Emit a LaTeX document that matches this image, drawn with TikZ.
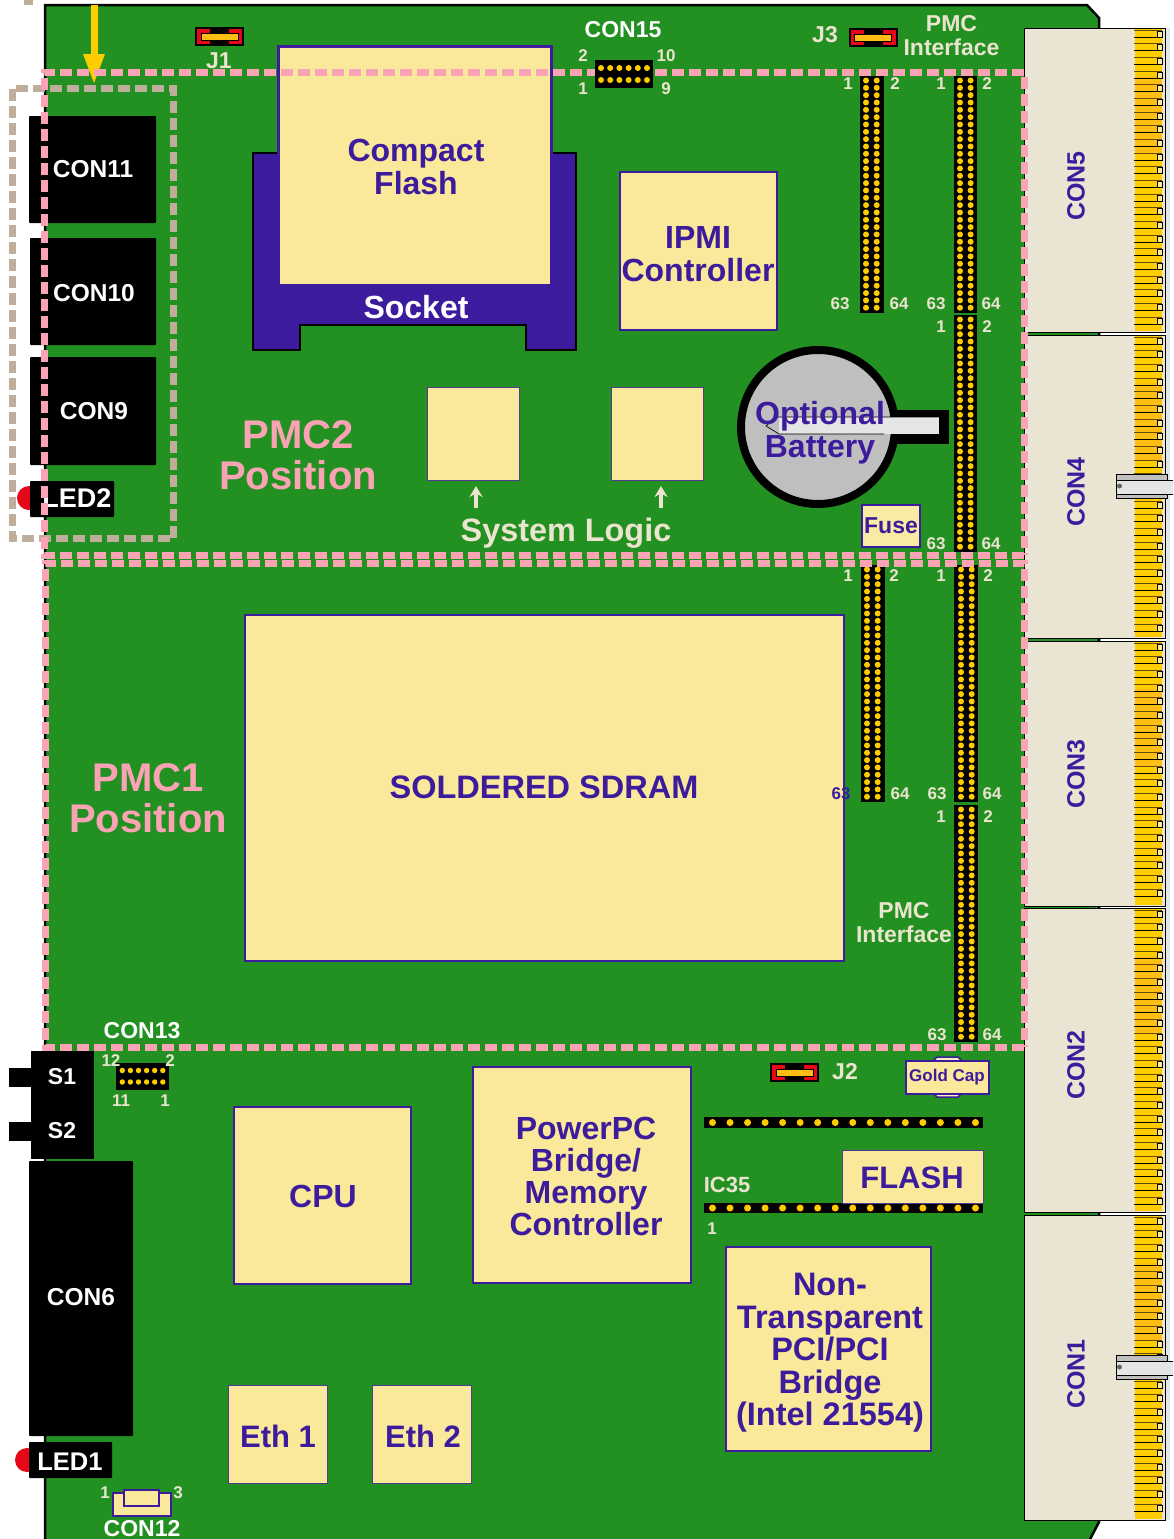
\documentclass[tikz,border=0pt]{standalone}
\usepackage{fontspec}
\setmainfont{Liberation Sans}
\usetikzlibrary{arrows.meta}

\definecolor{boardgreen}{RGB}{34,145,34}
\definecolor{chipfill}{RGB}{250,233,154}
\definecolor{navy}{RGB}{60,28,156}
\definecolor{labelcream}{RGB}{235,228,207}
\definecolor{conbody}{RGB}{234,229,211}
\definecolor{pinkline}{RGB}{249,163,181}
\definecolor{tanline}{RGB}{191,174,156}
\definecolor{goldpin}{RGB}{255,204,0}
\definecolor{ambergold}{RGB}{255,190,20}
\definecolor{ledred}{RGB}{230,8,24}
\definecolor{latchgrey}{RGB}{229,229,229}

\tikzset{
	chip/.style={fill=chipfill,draw=navy,line width=2pt},
	thinchip/.style={fill=chipfill,draw=navy!70!gray,line width=1pt},
	blackpart/.style={fill=black,rounded corners=0.8pt},
	pinkdash/.style={draw=pinkline,line width=7pt,dash pattern=on 12pt off 5pt},
	tandash/.style={draw=tanline,line width=7pt,dash pattern=on 12pt off 5pt},
	chiptext/.style={text=navy,font=\fontsize{32}{33}\selectfont\bfseries,align=center,inner sep=0pt},
	whitetext/.style={text=white,font=\fontsize{24.5}{25}\selectfont\bfseries,inner sep=0pt},
	pmctext/.style={text=pinkline,font=\fontsize{40}{41}\selectfont\bfseries,align=center,inner sep=0pt},
	creamtext/.style={text=labelcream,font=\fontsize{23}{24}\selectfont\bfseries,align=center,inner sep=0pt},
	pinlabel/.style={text=labelcream,font=\fontsize{17}{17}\selectfont\bfseries,inner sep=0pt,yshift=-0.8pt},
	pinhole/.style={fill=goldpin},
	context/.style={text=navy,font=\fontsize{25}{25}\selectfont\bfseries,rotate=90,inner sep=0pt},
}

\begin{document}
\begin{tikzpicture}[x=1pt,y=-1pt,>=stealth]

\useasboundingbox (0,0) rectangle (1173,1539);

% board
\draw [fill=boardgreen,line width=2.5pt] (45,1545) -- (45,5) -- (1087,5) -- (1099,18) -- (1099,1522) -- (1087,1545);
\fill [tanline] (24,0) rectangle (33,5);

% card edge connectors
\fill [latchgrey] (1166,28) rectangle (1170,1520);
\foreach \ytop/\ybot/\nlast in {28/332/21, 335/638/21, 641/906/18, 908/1212/21, 1215/1520/21} {
	\draw [fill=conbody,line width=1pt] (1024,\ytop) rectangle (1165,\ybot);
	\fill [goldpin] (1135,\ytop+1) rectangle (1162,\ybot-1);
	\fill [ambergold] (1135,\ytop+48) rectangle (1162,\ytop+125);
	\foreach \n in {0,...,\nlast} {
		\draw [black!60!ambergold,line width=1pt] (1134,{\ytop+2+\n*13.67}) -- (1162,{\ytop+2+\n*13.67});
		\draw [line width=0.8pt,fill=chipfill] (1157,{\ytop+3+\n*13.67}) rectangle (1162,{\ytop+9+\n*13.67});
		\draw [line width=0.9pt] (1134,{\ytop+9+\n*13.67}) -- (1157,{\ytop+9+\n*13.67});
	}
}
\node [context] (con5) at (1076,186) {CON5};
\node [context] (con4) at (1076,492) {CON4};
\node [context] (con3) at (1076,774) {CON3};
\node [context] (con2) at (1076,1065) {CON2};
\node [context] (con1) at (1076,1374) {CON1};

% latches
\foreach \ylatch in {474,1355} {
	\draw [fill=gray!50,line width=1pt] (1116.5,\ylatch) rectangle (1167,\ylatch+24);
	\fill [latchgrey] (1117,\ylatch+6) rectangle (1173,\ylatch+20);
	\draw [line width=0.8pt] (1117,\ylatch+6) -- (1173,\ylatch+6) (1117,\ylatch+20) -- (1173,\ylatch+20);
	\fill [black!60] (1119.5,\ylatch+12) circle (2.5pt);
}

%%%%%%%%%%%%%%%%%%%%%%%%%%%%%%%%%%%%%%%%%%

% front panel parts
\fill [ledred] (29,498) circle (12pt);
\fill [ledred] (27,1460) circle (12pt);
\fill [blackpart] (29,116) rectangle (156,223);
\fill [blackpart] (30,238) rectangle (156,345);
\fill [blackpart] (30,357) rectangle (156,465);
\fill [blackpart] (30,481) rectangle (114,517);
\fill [blackpart] (29,1161) rectangle (133,1436);
\fill [blackpart] (29,1442) rectangle (112,1478);
\fill (31,1051) rectangle (94,1159);
\fill (9,1068) rectangle (31,1087);
\fill (9,1122) rectangle (31,1141);
\node [whitetext] (con11) at (93,169) {CON11};
\node [whitetext] (con10) at (94,293) {CON10};
\node [whitetext] (con9) at (94,411) {CON9};
\node [whitetext,font=\fontsize{27}{27}\selectfont\bfseries] (led2) at (77,498) {LED2};
\node [whitetext] (con6) at (81,1297) {CON6};
\node [whitetext,font=\fontsize{25.5}{25.5}\selectfont\bfseries] (led1) at (70,1462) {LED1};
\node [whitetext,font=\fontsize{23}{23}\selectfont\bfseries] (s1) at (62,1077) {S1};
\node [whitetext,font=\fontsize{23}{23}\selectfont\bfseries] (s2) at (62,1131) {S2};

%%%%%%%%%%%%%%%%%%%%%%%%%%%%%%%%%%%%%%%%%%

% compact flash and socket
\draw [fill=navy,line width=1.5pt] (253,153) -- (576,153) -- (576,350) -- (526,350) -- (526,325) -- (300,325) -- (300,350) -- (253,350) -- cycle;
\fill [navy] (277,45) rectangle (553,285);
\fill [chipfill] (280,48) rectangle (550,284);
\node [chiptext] (compactflash) at (416,167) {Compact\\Flash};
\node [whitetext,font=\fontsize{32}{32}\selectfont\bfseries] (socket) at (416,307) {Socket};

% ipmi and system logic
\draw [chip] (620,172) rectangle (777,330);
\node [chiptext] (ipmi) at (698,254) {IPMI\\Controller};
\draw [thinchip] (427,387) rectangle (519,480);
\draw [thinchip] (611,387) rectangle (703,480);
\node [pmctext] (pmc2) at (298,455) {PMC2\\Position};
\node [creamtext,font=\fontsize{32.4}{32}\selectfont\bfseries] (systemlogic) at (566,533) {System Logic};
\coordinate (logica) at (476,508);
\coordinate (logicb) at (661,508);
\draw [labelcream,line width=4pt,-{Stealth[length=11pt,width=13pt]}] (logica) -- +(0,-22);
\draw [labelcream,line width=4pt,-{Stealth[length=11pt,width=13pt]}] (logicb) -- +(0,-22);

% battery
\draw [fill=gray!50!white,line width=8pt] (818,427) circle (77pt);
\fill (895,410) rectangle (949,444);
\fill [latchgrey] (779,417) rectangle (939,434);
\draw [line width=0.7pt] (939,417) -- (775,417) -- (766,426) -- (779,434) -- (884,434);
\node [chiptext] (battery) at (820,433) {Optional\\Battery};

\draw [chip,fill=chipfill!90!white] (862,505) rectangle (920,547);
\node [chiptext,font=\fontsize{23}{23}\selectfont\bfseries] (fuse) at (891,526) {Fuse};

%%%%%%%%%%%%%%%%%%%%%%%%%%%%%%%%%%%%%%%%%%

% sdram and lower chips
\draw [chip] (245,615) rectangle (844,961);
\node [chiptext,font=\fontsize{32.5}{33}\selectfont\bfseries] (sdram) at (544,787) {SOLDERED SDRAM};
\node [pmctext] (pmc1) at (148,798) {PMC1\\Position};

\draw [chip] (234,1107) rectangle (411,1284);
\node [chiptext] (cpu) at (323,1196) {CPU};
\draw [chip] (473,1067) rectangle (691,1283);
\node [chiptext,font=\fontsize{32}{32}\selectfont\bfseries] (bridge) at (586,1176) {PowerPC\\Bridge/\\Memory\\Controller};
\draw [chip] (726,1247) rectangle (931,1451);
\node [chiptext,font=\fontsize{32.5}{32.5}\selectfont\bfseries] (nontransparent) at (830,1353) {Non-\\Transparent\\PCI/PCI\\Bridge\\(Intel 21554)};
\draw [thinchip] (228,1385) rectangle (327,1483);
\draw [thinchip] (372,1385) rectangle (471,1483);
\node [chiptext,font=\fontsize{31}{31}\selectfont\bfseries] (eth1) at (278,1436) {Eth 1};
\node [chiptext,font=\fontsize{31}{31}\selectfont\bfseries] (eth2) at (423,1436) {Eth 2};

% flash and pin rows
\fill (704,1117) rectangle (983,1128);
\fill (704,1203) rectangle (983,1213);
\foreach \yrow in {1122.5,1208} {
	\foreach \n in {0,...,15} {
		\fill [pinhole] ({712.5+\n*17.53},\yrow) circle (3.5pt);
	}
}
\draw [thinchip] (842,1150) rectangle (983,1203);
\node [chiptext,font=\fontsize{31}{31}\selectfont\bfseries] (flash) at (912,1178) {FLASH};
\node [creamtext,font=\fontsize{22}{22}\selectfont\bfseries] (ic35) at (727,1185) {IC35};
\node [pinlabel] (ic35one) at (712,1228) {1};

% gold cap
\draw [fill=chipfill!60!white,draw=navy,line width=1.5pt] (933,1061) -- (937,1057) -- (958,1057) -- (962,1061) -- (962,1093) -- (958,1097) -- (937,1097) -- (933,1093) -- cycle;
\draw [chip] (906,1061) rectangle (989,1094);
\node [chiptext,font=\fontsize{17}{17}\selectfont\bfseries] (goldcap) at (947,1077) {Gold Cap};

% con12
\draw [chip] (113,1493) rectangle (171,1516);
\draw [chip] (124,1490) rectangle (159,1506);
\node [pinlabel] (con12one) at (105,1492) {1};
\node [pinlabel] (con12three) at (178,1492) {3};
\node [whitetext,font=\fontsize{23}{23}\selectfont\bfseries] (con12) at (142,1529) {CON12};

%%%%%%%%%%%%%%%%%%%%%%%%%%%%%%%%%%%%%%%%%%

% pmc headers
\foreach \xl/\ytop/\pina/\pinb in {860/76/866/876.7, 953.5/76/960/970.6, 953.5/315/960/970.6, 861/565/867/877.7, 954/565/961/971.7, 954/805/961/971.7} {
	\fill (\xl,\ytop) rectangle (\xl+23.5,\ytop+236.5);
	\foreach \n in {0,...,31} {
		\fill [pinhole] (\pina,{\ytop+4.5+\n*7.33}) circle (3pt);
		\fill [pinhole] (\pinb,{\ytop+4.5+\n*7.33}) circle (3pt);
	}
}

% con13 header
\fill (116,1063) rectangle (169,1090);
\foreach \n in {0,...,5} {
	\fill [pinhole] ({122.3+\n*8.1},1070.5) circle (2.7pt);
	\fill [pinhole] ({122.3+\n*8.1},1082) circle (2.7pt);
}

% jumpers
\foreach \xj/\yj in {195/27, 848.5/28, 770/1063} {
	\fill (\xj,\yj) rectangle (\xj+49,\yj+19);
	\fill [ledred] (\xj+2,\yj+2) rectangle (\xj+15,\yj+17);
	\fill [ledred] (\xj+34,\yj+2) rectangle (\xj+47,\yj+17);
	\draw [fill=ambergold,line width=0.8pt] (\xj+6,\yj+6) rectangle (\xj+43,\yj+13);
}

% labels on the board
\node [creamtext] (j1) at (219,61) {J1};
\node [creamtext] (j3) at (825,35) {J3};
\node [creamtext] (j2) at (845,1072) {J2};
\node [creamtext] (pmctop) at (951.5,36) {PMC\\Interface};
\node [creamtext] (pmcbottom) at (904,923) {PMC\\Interface};
\node [whitetext,font=\fontsize{23}{23}\selectfont\bfseries] (con15) at (623,30) {CON15};
\node [whitetext,font=\fontsize{23}{23}\selectfont\bfseries] (con13) at (142,1031) {CON13};
\foreach \xp/\yp/\tp [count=\i] in {
	583/55/2, 666/55/10, 583/88/1, 666/88/9,
	848/83/1, 895/83/2, 941/83/1, 987/83/2,
	840/303/63, 899/303/64, 936/303/63, 991/303/64,
	941/326/1, 987/326/2, 936/543/63, 991/543/64,
	848/575/1, 894/575/2, 941/575/1, 988/575/2,
	900/793/64, 937/793/63, 992/793/64, 941/816/1, 988/816/2,
	937/1034/63, 992/1034/64,
	111/1060/12, 170/1060/2, 121/1100/11, 165/1100/1} {
	\node [pinlabel] (pinlabel\i) at (\xp,\yp) {\tp};
}
\node [pinlabel,text=navy] (sdrampin) at (841,793) {63};

%%%%%%%%%%%%%%%%%%%%%%%%%%%%%%%%%%%%%%%%%%

% arrow and dashed outlines
\draw [goldpin,line width=7pt] (94.5,5) to (94.5,56);
\fill [goldpin] (83,54) -- (105,54) -- (94,83) -- cycle;

\draw [tandash] (173,538) -- (173,88) -- (12,88) -- (12,538) -- (173,538);
\draw [pinkdash] (1024,555) -- (44,555) -- (44,72) -- (1024,72) -- (1024,555);
\draw [pinkdash] (1024,1047) -- (45,1047) -- (45,563) -- (1024,563) -- (1024,1047);

% con15 header sits above the dashes
\fill (595,60) rectangle (653,88);
\foreach \n in {0,...,5} {
	\fill [pinhole] ({601+\n*9.2},68) circle (3pt);
	\fill [pinhole] ({601+\n*9.2},80) circle (3pt);
}

\end{tikzpicture}
\end{document}
